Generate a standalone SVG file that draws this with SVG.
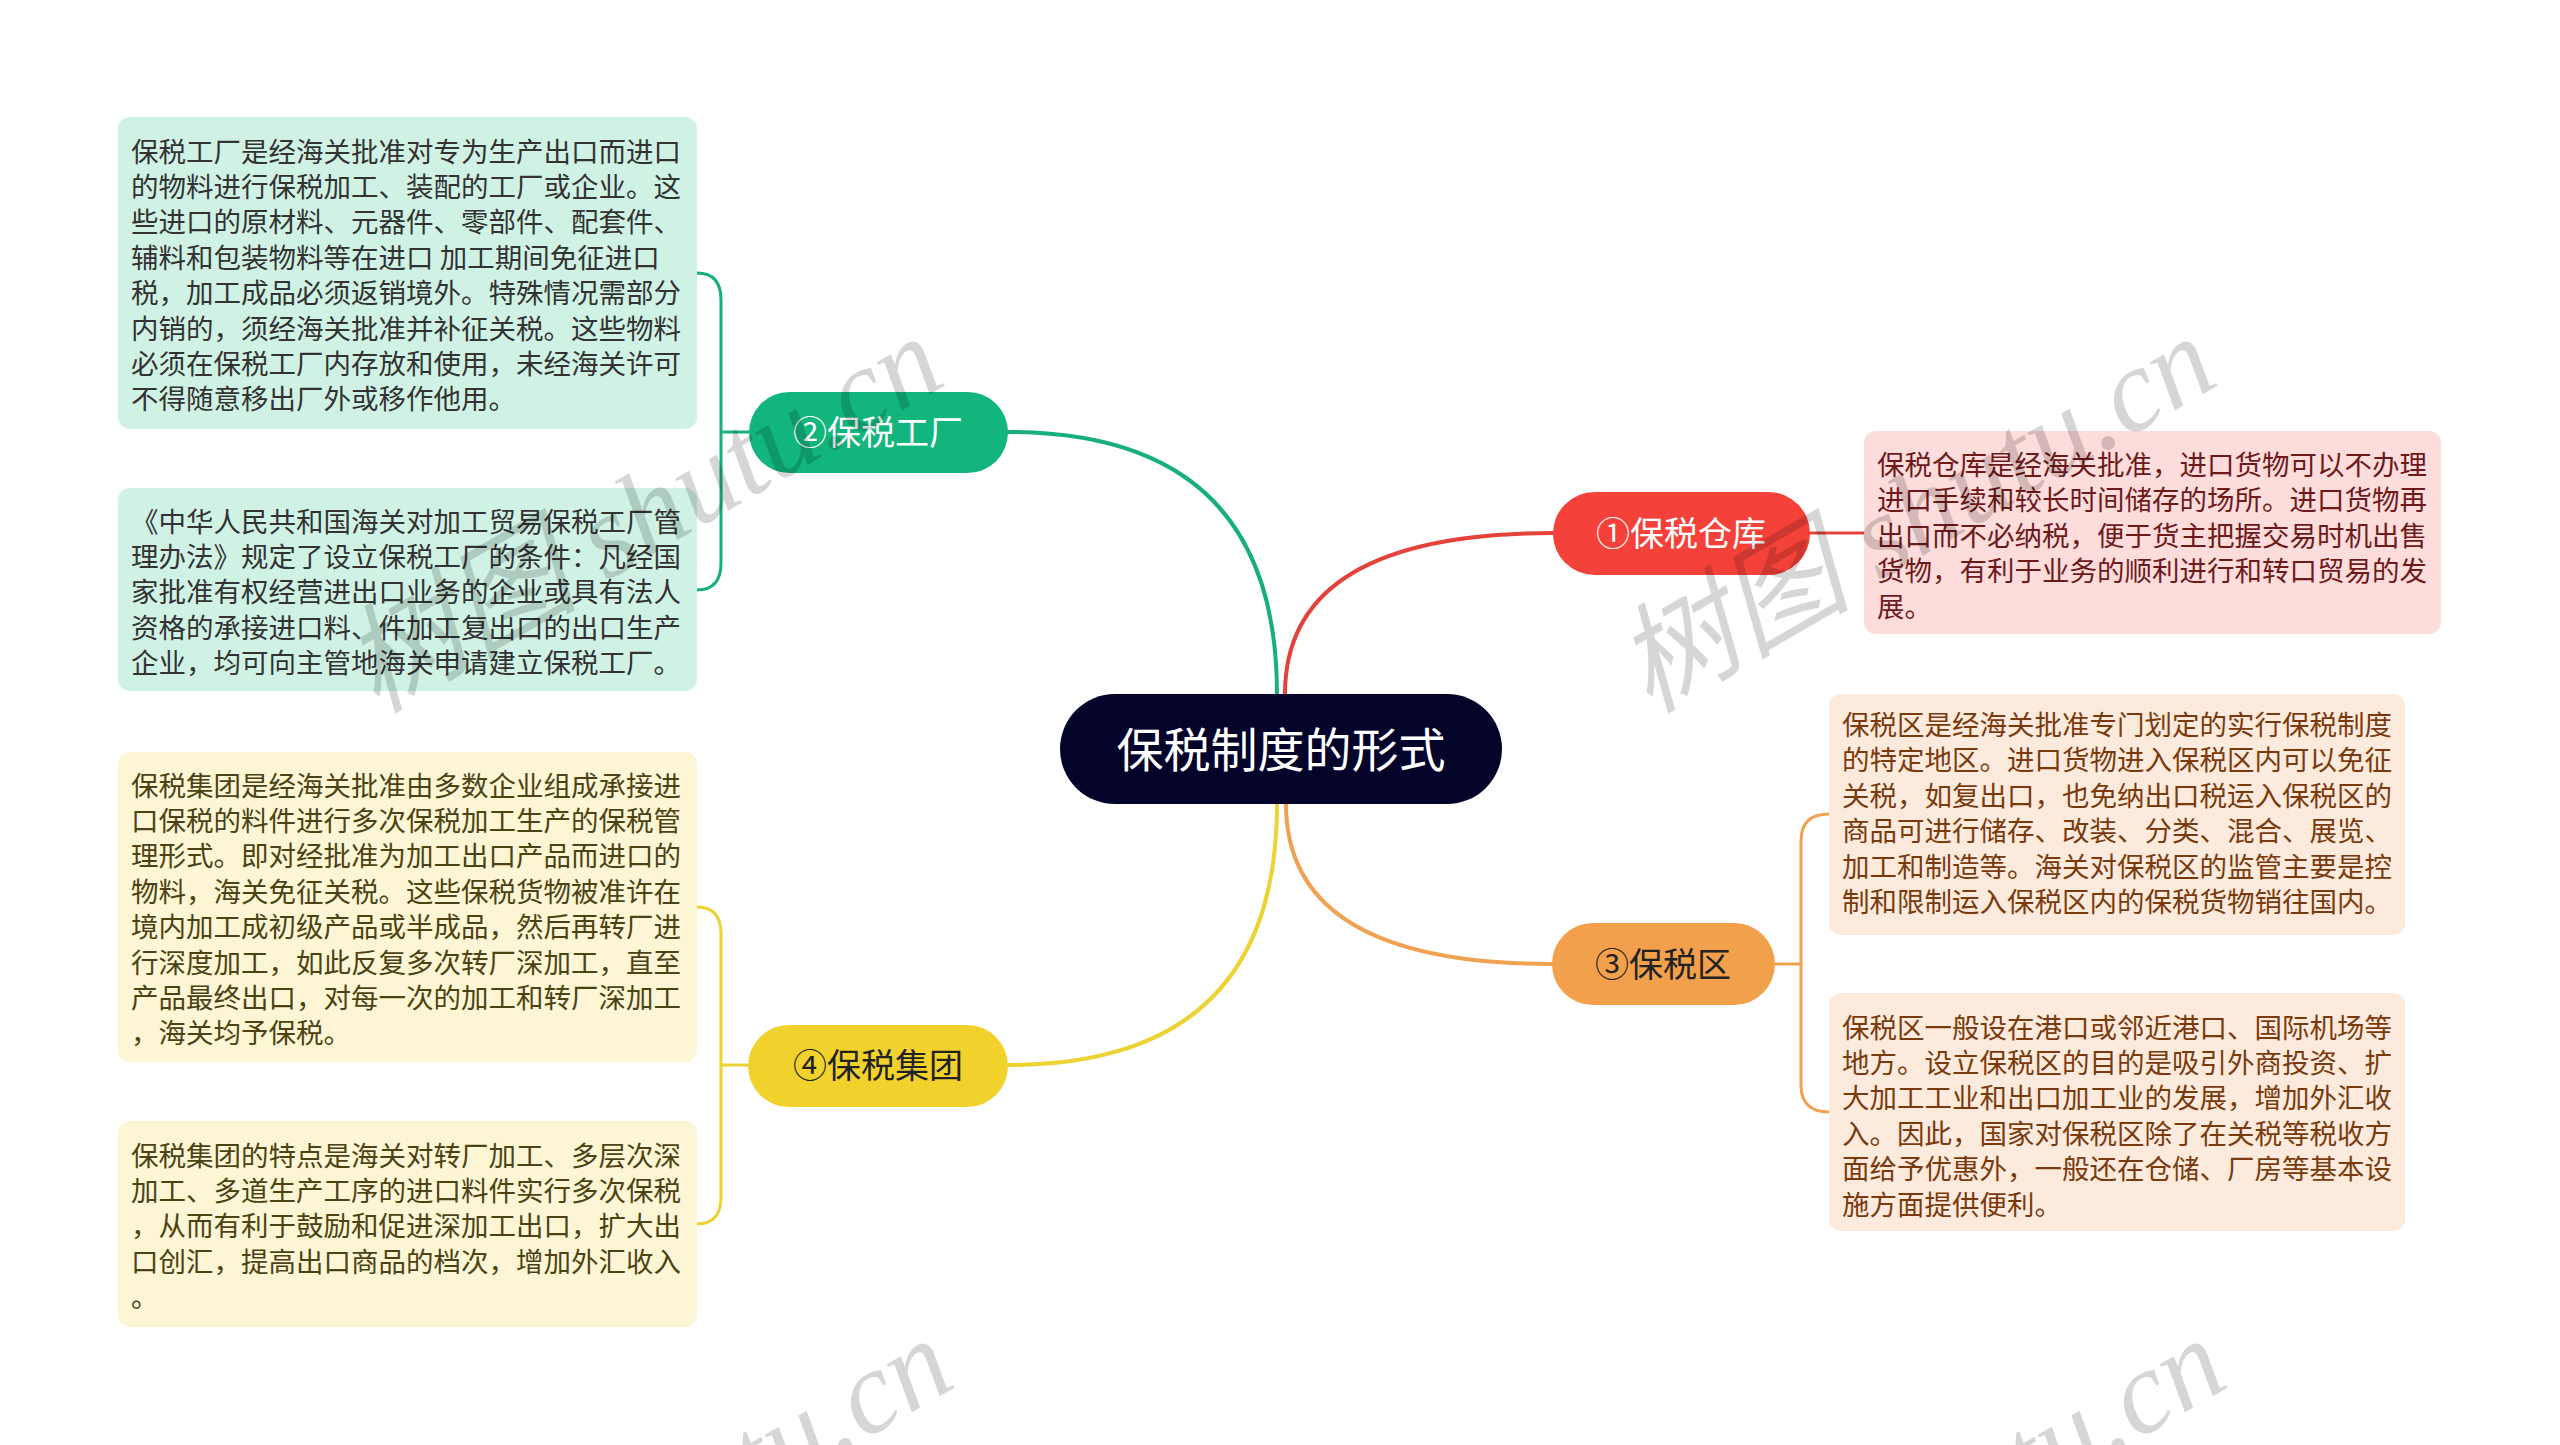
<svg xmlns="http://www.w3.org/2000/svg" width="2560" height="1445" viewBox="0 0 2560 1445">
<style>
.t{font-family:"Noto Sans CJK SC","Liberation Sans",sans-serif;font-size:27.5px}
.pl{font-family:"Noto Sans CJK SC","Liberation Sans",sans-serif;font-size:34px;text-anchor:middle}
.ln{fill:none;stroke-width:4;stroke-linecap:round}
.br{fill:none;stroke-width:3;stroke-linecap:round}
.wm{font-family:"Liberation Serif","Noto Sans CJK SC",serif;font-style:italic;font-size:118px;fill:#000;fill-opacity:0.16}
</style>
<rect width="2560" height="1445" fill="#ffffff"/>
<g id="connectors">
<path class="ln" stroke="#17b07a" d="M1277 694 Q1277 432 1008 432"/>
<path class="ln" stroke="#e5423b" d="M1285 694 Q1285 533 1553 533"/>
<path class="ln" stroke="#eea252" d="M1286 804 Q1286 964 1552 964"/>
<path class="ln" stroke="#ecd232" d="M1277 804 Q1277 1065 1008 1065"/>
<path class="br" stroke="#17b07a" d="M749 432 L721 432 M697 273 Q721 273 721 300 L721 563 Q721 590 697 590"/>
<path class="br" stroke="#ecd232" d="M748 1065 L721 1065 M697 907 Q721 907 721 934 L721 1197 Q721 1224 697 1224"/>
<path class="br" stroke="#e5423b" d="M1810 533 L1864 533"/>
<path class="br" stroke="#eea252" d="M1775 964 L1801 964 M1829 814 Q1801 814 1801 841 L1801 1085 Q1801 1112 1829 1112"/>
</g>
<g id="root">
<rect x="1060" y="694" width="442" height="110" rx="55" fill="#04042a"/>
<text x="1281" y="767" font-family="Noto Sans CJK SC, sans-serif" font-size="47" fill="#ffffff" text-anchor="middle">保税制度的形式</text>
</g>
<g id="n1">
<rect x="1553" y="492" width="257" height="83" rx="41.5" fill="#f4423a"/>
<text class="pl" x="1681" y="546" fill="#ffffff">①保税仓库</text>
</g>
<g id="n1a">
<rect x="1864" y="431" width="577" height="203" rx="12" fill="#fddcdc"/>
<text class="t" fill="#6e1a1a"><tspan x="1877" y="475">保税仓库是经海关批准，进口货物可以不办理</tspan><tspan x="1877" y="510.4">进口手续和较长时间储存的场所。进口货物再</tspan><tspan x="1877" y="545.8">出口而不必纳税，便于货主把握交易时机出售</tspan><tspan x="1877" y="581.2">货物，有利于业务的顺利进行和转口贸易的发</tspan><tspan x="1877" y="616.6">展。</tspan></text>
</g>
<g id="n2">
<rect x="749" y="392" width="259" height="81" rx="40.5" fill="#12b57b"/>
<text class="pl" x="878" y="445" fill="#ffffff">②保税工厂</text>
</g>
<g id="n2a">
<rect x="118" y="117" width="579" height="312" rx="12" fill="#d0f2e4"/>
<text class="t" fill="#333333"><tspan x="131" y="161.5">保税工厂是经海关批准对专为生产出口而进口</tspan><tspan x="131" y="196.9">的物料进行保税加工、装配的工厂或企业。这</tspan><tspan x="131" y="232.3">些进口的原材料、元器件、零部件、配套件、</tspan><tspan x="131" y="267.7">辅料和包装物料等在进口 加工期间免征进口</tspan><tspan x="131" y="303.1">税，加工成品必须返销境外。特殊情况需部分</tspan><tspan x="131" y="338.5">内销的，须经海关批准并补征关税。这些物料</tspan><tspan x="131" y="373.9">必须在保税工厂内存放和使用，未经海关许可</tspan><tspan x="131" y="409.3">不得随意移出厂外或移作他用。</tspan></text>
</g>
<g id="n2b">
<rect x="118" y="488" width="579" height="203" rx="12" fill="#d0f2e4"/>
<text class="t" fill="#333333"><tspan x="131" y="531.5">《中华人民共和国海关对加工贸易保税工厂管</tspan><tspan x="131" y="566.9">理办法》规定了设立保税工厂的条件：凡经国</tspan><tspan x="131" y="602.3">家批准有权经营进出口业务的企业或具有法人</tspan><tspan x="131" y="637.7">资格的承接进口料、件加工复出口的出口生产</tspan><tspan x="131" y="673.1">企业，均可向主管地海关申请建立保税工厂。</tspan></text>
</g>
<g id="n3">
<rect x="1552" y="923" width="223" height="82" rx="41" fill="#f2a04c"/>
<text class="pl" x="1663" y="977" fill="#222222">③保税区</text>
</g>
<g id="n3a">
<rect x="1829" y="694" width="576" height="241" rx="12" fill="#fcebdc"/>
<text class="t" fill="#7a3a0e"><tspan x="1842" y="735">保税区是经海关批准专门划定的实行保税制度</tspan><tspan x="1842" y="770.4">的特定地区。进口货物进入保税区内可以免征</tspan><tspan x="1842" y="805.8">关税，如复出口，也免纳出口税运入保税区的</tspan><tspan x="1842" y="841.2">商品可进行储存、改装、分类、混合、展览、</tspan><tspan x="1842" y="876.6">加工和制造等。海关对保税区的监管主要是控</tspan><tspan x="1842" y="912">制和限制运入保税区内的保税货物销往国内。</tspan></text>
</g>
<g id="n3b">
<rect x="1829" y="993" width="576" height="238" rx="12" fill="#fcebdc"/>
<text class="t" fill="#7a3a0e"><tspan x="1842" y="1037.5">保税区一般设在港口或邻近港口、国际机场等</tspan><tspan x="1842" y="1072.9">地方。设立保税区的目的是吸引外商投资、扩</tspan><tspan x="1842" y="1108.3">大加工工业和出口加工业的发展，增加外汇收</tspan><tspan x="1842" y="1143.7">入。因此，国家对保税区除了在关税等税收方</tspan><tspan x="1842" y="1179.1">面给予优惠外，一般还在仓储、厂房等基本设</tspan><tspan x="1842" y="1214.5">施方面提供便利。</tspan></text>
</g>
<g id="n4">
<rect x="748" y="1025" width="260" height="82" rx="41" fill="#f1d22c"/>
<text class="pl" x="878" y="1078" fill="#222222">④保税集团</text>
</g>
<g id="n4a">
<rect x="118" y="752" width="579" height="310" rx="12" fill="#fcf6d4"/>
<text class="t" fill="#4d4214"><tspan x="131" y="795.5">保税集团是经海关批准由多数企业组成承接进</tspan><tspan x="131" y="830.9">口保税的料件进行多次保税加工生产的保税管</tspan><tspan x="131" y="866.3">理形式。即对经批准为加工出口产品而进口的</tspan><tspan x="131" y="901.7">物料，海关免征关税。这些保税货物被准许在</tspan><tspan x="131" y="937.1">境内加工成初级产品或半成品，然后再转厂进</tspan><tspan x="131" y="972.5">行深度加工，如此反复多次转厂深加工，直至</tspan><tspan x="131" y="1007.9">产品最终出口，对每一次的加工和转厂深加工</tspan><tspan x="131" y="1043.3">，海关均予保税。</tspan></text>
</g>
<g id="n4b">
<rect x="118" y="1121" width="579" height="206" rx="12" fill="#fcf6d4"/>
<text class="t" fill="#4d4214"><tspan x="131" y="1165.5">保税集团的特点是海关对转厂加工、多层次深</tspan><tspan x="131" y="1200.9">加工、多道生产工序的进口料件实行多次保税</tspan><tspan x="131" y="1236.3">，从而有利于鼓励和促进深加工出口，扩大出</tspan><tspan x="131" y="1271.7">口创汇，提高出口商品的档次，增加外汇收入</tspan><tspan x="131" y="1307.1">。</tspan></text>
</g>
<g id="watermark">
<text class="wm" transform="translate(376 714) rotate(-30)">树图 shutu.cn</text>
<text class="wm" transform="translate(1649 714) rotate(-30)">树图 shutu.cn</text>
<text class="wm" transform="translate(386 1716) rotate(-30)">树图 shutu.cn</text>
<text class="wm" transform="translate(1659 1716) rotate(-30)">树图 shutu.cn</text>
</g>
</svg>
